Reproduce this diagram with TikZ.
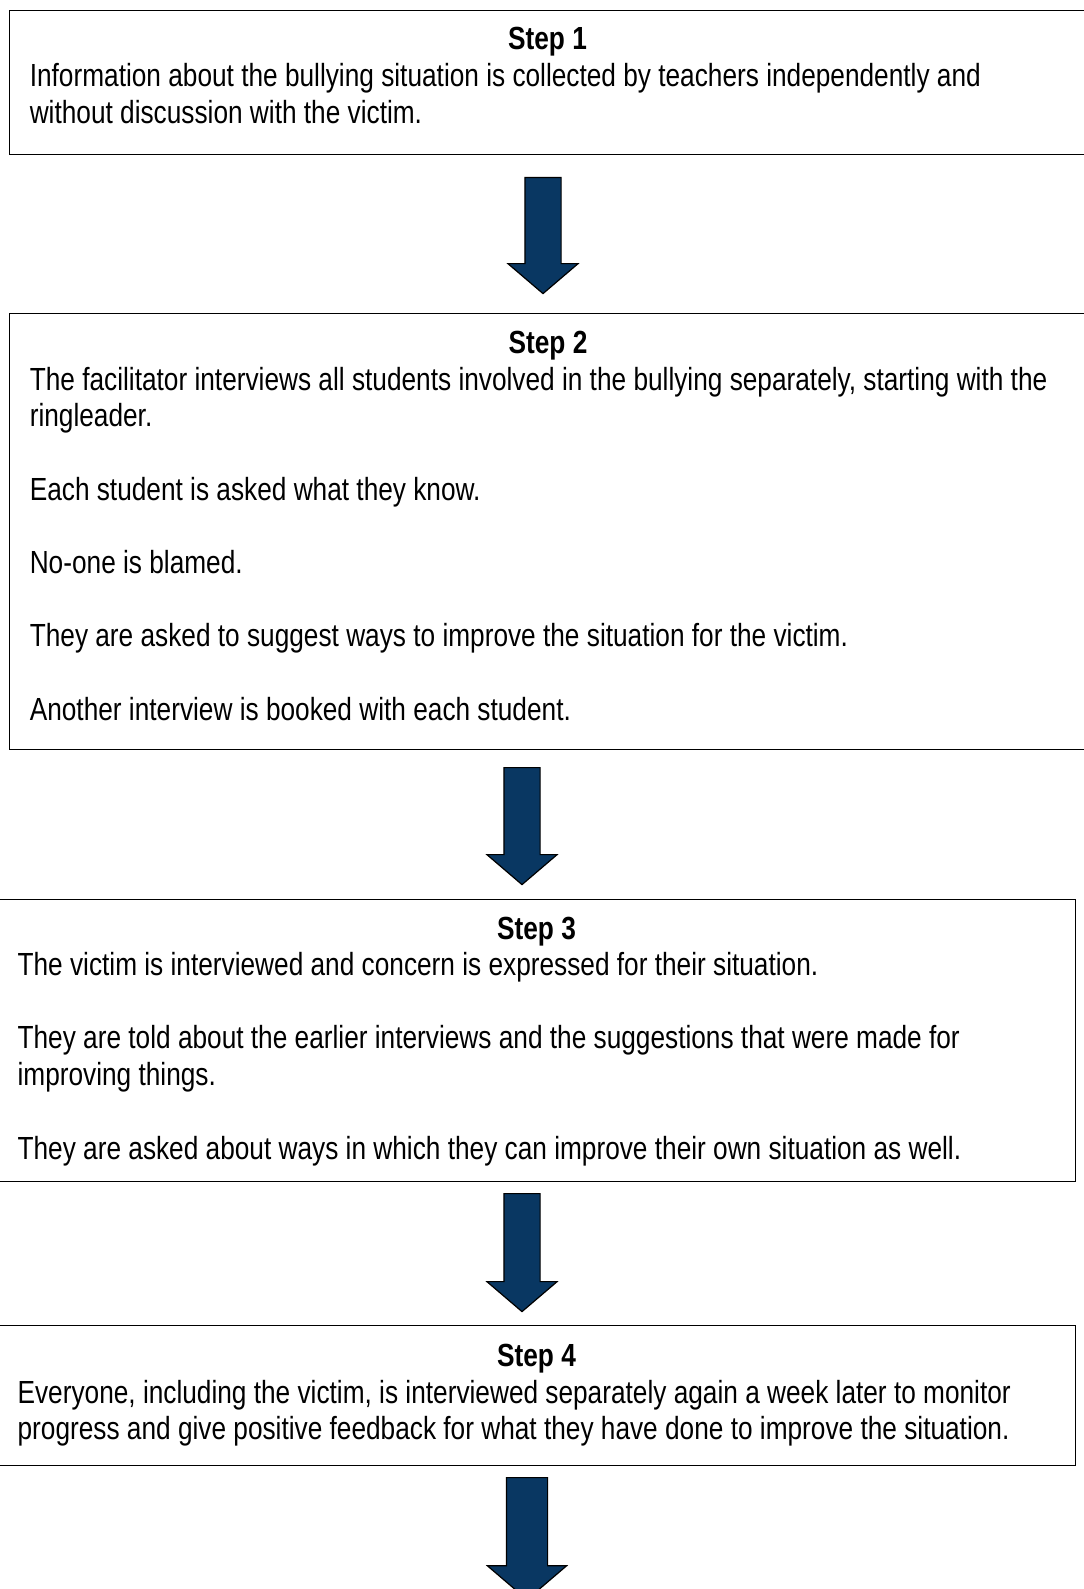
\documentclass[tikz,border=0pt]{standalone}
\usepackage{fontspec}
\setmainfont[FakeStretch=0.82]{Liberation Sans}
\usetikzlibrary{shapes.arrows}
\definecolor{stepnavy}{RGB}{9,55,98}
\newcommand{\stepfont}{\fontsize{16pt}{18.35pt}\selectfont}

\tikzset{
  stepbox/.style={draw=black, line width=0.7pt, inner sep=0pt, anchor=north west},
  steptitle/.style={font=\stepfont\bfseries, anchor=base, inner sep=0pt},
  stepbody/.style={font=\stepfont, text width=530pt, align=flush left, anchor=base west, inner sep=0pt},
  downarrow/.style={single arrow, shape border rotate=270, fill=stepnavy, draw=black,
    line width=0.6pt, inner sep=8.75pt, single arrow tip angle=99,
    single arrow head extend=8.5pt, anchor=tail}
}

\begin{document}
\begin{tikzpicture}[x=0.5pt,y=-0.5pt]
  \useasboundingbox (0,0) rectangle (1083,1589);

  % step 1
  \node[stepbox, minimum width=538.5pt, minimum height=72pt] (s1) at (9,10) {};
  \node[steptitle] (t1) at (547.5,50) {Step 1};
  \node[stepbody] (b1) at (29.4,86.5) {Information about the bullying situation is collected by teachers independently and\\
    without discussion with the victim.};

  \node[downarrow, minimum height=58pt] (a1) at (543,177) {};

  % step 2
  \node[stepbox, minimum width=539pt, minimum height=218pt] (s2) at (9,313) {};
  \node[steptitle] (t2) at (548,353) {Step 2};
  \node[stepbody] (b2) at (29.4,390) {The facilitator interviews all students involved in the bullying separately, starting with the\\
    ringleader.\\[18.35pt]
    Each student is asked what they know.\\[18.35pt]
    No-one is blamed.\\[18.35pt]
    They are asked to suggest ways to improve the situation for the victim.\\[18.35pt]
    Another interview is booked with each student.};

  \node[downarrow, minimum height=58.5pt] (a2) at (522,767) {};

  % step 3
  \node[stepbox, minimum width=538.5pt, minimum height=141pt] (s3) at (-2,899) {};
  \node[steptitle] (t3) at (536.5,939) {Step 3};
  \node[stepbody] (b3) at (17.2,975.5) {The victim is interviewed and concern is expressed for their situation.\\[18.35pt]
    They are told about the earlier interviews and the suggestions that were made for\\
    improving things.\\[18.35pt]
    They are asked about ways in which they can improve their own situation as well.};

  \node[downarrow, minimum height=59pt] (a3) at (522,1193) {};

  % step 4
  \node[stepbox, minimum width=538.5pt, minimum height=70pt] (s4) at (-2,1325) {};
  \node[steptitle] (t4) at (536.5,1366) {Step 4};
  \node[stepbody] (b4) at (17.2,1403) {Everyone, including the victim, is interviewed separately again a week later to monitor\\
    progress and give positive feedback for what they have done to improve the situation.};

  \node[downarrow, minimum height=61pt, inner sep=10pt, single arrow head extend=9.5pt] (a4) at (527,1477) {};
\end{tikzpicture}
\end{document}
